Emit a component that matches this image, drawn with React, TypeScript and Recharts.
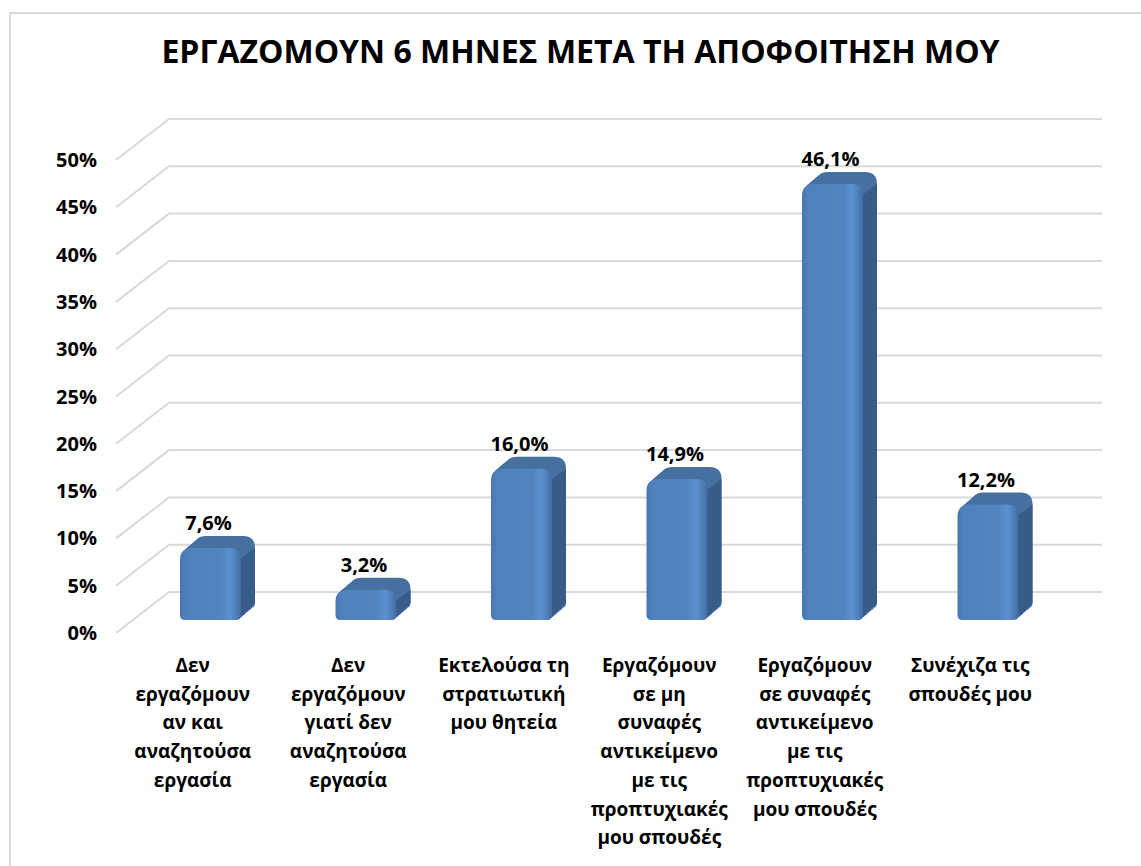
import { BarChart, Bar, XAxis, YAxis, CartesianGrid, LabelList } from 'recharts';

const TITLE = 'ΕΡΓΑΖΟΜΟΥΝ 6 ΜΗΝΕΣ ΜΕΤΑ ΤΗ ΑΠΟΦΟΙΤΗΣΗ ΜΟΥ';

const CATEGORY_LINES = [
  ['Δεν', 'εργαζόμουν', 'αν και', 'αναζητούσα', 'εργασία'],
  ['Δεν', 'εργαζόμουν', 'γιατί δεν', 'αναζητούσα', 'εργασία'],
  ['Εκτελούσα τη', 'στρατιωτική', 'μου θητεία'],
  ['Εργαζόμουν', 'σε μη', 'συναφές', 'αντικείμενο', 'με τις', 'προπτυχιακές', 'μου σπουδές'],
  ['Εργαζόμουν', 'σε συναφές', 'αντικείμενο', 'με τις', 'προπτυχιακές', 'μου σπουδές'],
  ['Συνέχιζα τις', 'σπουδές μου'],
];

const VALUES = [0.076, 0.032, 0.16, 0.149, 0.461, 0.122];

const Y_TICKS = [0, 0.05, 0.1, 0.15, 0.2, 0.25, 0.3, 0.35, 0.4, 0.45, 0.5];

const data = CATEGORY_LINES.map((lines, i) => ({ name: lines.join(' '), value: VALUES[i] }));

const FONT = '"Open Sans", sans-serif';

// 3d look: floor front edge sits in front of the bar plane, back wall behind it
const FRONT_DX = 17;
const FRONT_DY = 13;
const BACK_DX = 36;
const BACK_DY = 28;
// bar extrusion
const BAR_DX = 14;
const BAR_DY = 12;

const pct = (v: number) => (v * 100).toFixed(1).replace('.', ',') + '%';

const roundedPath = (x: number, y: number, w: number, h: number, r: number, rb: number) => {
  const rt = Math.min(r, h / 2, w / 2);
  const rbb = Math.min(rb, h / 2);
  return `M${x},${y + rt} Q${x},${y} ${x + rt},${y} L${x + w - rt},${y} Q${x + w},${y} ${x + w},${y + rt}
    L${x + w},${y + h - rbb} Q${x + w},${y + h} ${x + w - rbb},${y + h} L${x + rbb},${y + h} Q${x},${y + h} ${x},${y + h - rbb} Z`;
};

const Bar3D = (props: any) => {
  const { x, y, width: w, height: h } = props;
  if (!h || h <= 0) return null;
  const r = 12;
  const rb = 5;
  const steps = [1, 0.8, 0.6, 0.4, 0.2];
  return (
    <g>
      {steps.map((t) => (
        <path key={t} d={roundedPath(x + t * BAR_DX, y - t * BAR_DY, w, h, r, rb)} fill="#46709f" />
      ))}
      <path
        d={`M${x + w - 2},${y + r} L${x + w + BAR_DX},${y + r - BAR_DY} L${x + w + BAR_DX},${y + h - BAR_DY - rb} L${x + w - 2},${y + h - 1} Z`}
        fill="#385b88"
      />
      <path d={roundedPath(x, y, w, h, r, rb)} fill="url(#barFront)" />
    </g>
  );
};

const ValueLabel = (props: any) => {
  const { x, y, width, value } = props;
  return (
    <text x={x + width / 2 - 2} y={y - 18} textAnchor="middle" fontFamily={FONT} fontWeight={700} fontSize={20} fill="#000">
      {pct(value)}
    </text>
  );
};

const YTick = (props: any) => {
  const { x, y, payload } = props;
  return (
    <text x={x - FRONT_DX} y={y + FRONT_DY} dy={7} textAnchor="end" fontFamily={FONT} fontWeight={700} fontSize={20} fill="#000">
      {Math.round(payload.value * 100) + '%'}
    </text>
  );
};

const XTick = (props: any) => {
  const { x, y, index } = props;
  const lines = CATEGORY_LINES[index] || [];
  return (
    <text x={x - 18} y={y + 52} textAnchor="middle" fontFamily={FONT} fontWeight={700} fontSize={19} fill="#000">
      {lines.map((line, i) => (
        <tspan key={i} x={x - 18} dy={i === 0 ? 0 : 28.7}>
          {line}
        </tspan>
      ))}
    </text>
  );
};

const GridLine = (props: any) => {
  const { x1, y1, x2 } = props;
  return (
    <path
      d={`M${x1 - FRONT_DX},${y1 + FRONT_DY} L${x1 + BACK_DX},${y1 - BACK_DY} L${x2 + BACK_DX},${y1 - BACK_DY}`}
      stroke="#d9d9d9"
      strokeWidth={2}
      fill="none"
    />
  );
};

const App = () => {
  return (
    <div style={{ position: 'absolute', left: 0, top: 0, width: 1141, height: 866, overflow: 'hidden', background: '#fff' }}>
      <div
        style={{
          position: 'absolute',
          left: 9,
          top: 12,
          width: 1200,
          height: 900,
          border: '2px solid #d9d9d9',
          boxSizing: 'border-box',
        }}
      />
      <div
        style={{
          position: 'absolute',
          left: 10,
          top: 35,
          width: 1141,
          textAlign: 'center',
          fontFamily: FONT,
          fontWeight: 700,
          fontSize: 32,
          lineHeight: '32px',
          color: '#000',
        }}
      >
        {TITLE}
      </div>
      <div style={{ position: 'absolute', left: 0, top: 0 }}>
        <BarChart width={1141} height={866} data={data} margin={{ top: 147, right: 75, bottom: 26, left: 0 }}>
          <defs>
            <linearGradient id="barFront" x1="0" y1="0" x2="1" y2="0">
              <stop offset="0%" stopColor="#4876ae" />
              <stop offset="10%" stopColor="#4f81bd" />
              <stop offset="68%" stopColor="#5184c1" />
              <stop offset="82%" stopColor="#5b90d1" />
              <stop offset="92%" stopColor="#4e7fba" />
              <stop offset="100%" stopColor="#426ba0" />
            </linearGradient>
          </defs>
          <CartesianGrid vertical={false} horizontal={<GridLine />} />
          <XAxis
            dataKey="name"
            interval={0}
            height={220}
            axisLine={false}
            tickLine={false}
            tickSize={0}
            tickMargin={0}
            tick={<XTick />}
          />
          <YAxis
            width={133}
            domain={[0, 0.5]}
            ticks={Y_TICKS}
            axisLine={false}
            tickLine={false}
            tickSize={0}
            tickMargin={19}
            tick={<YTick />}
          />
          <Bar dataKey="value" barSize={61} shape={<Bar3D />} isAnimationActive={false}>
            <LabelList dataKey="value" content={<ValueLabel />} />
          </Bar>
        </BarChart>
      </div>
    </div>
  );
};

export default App;
